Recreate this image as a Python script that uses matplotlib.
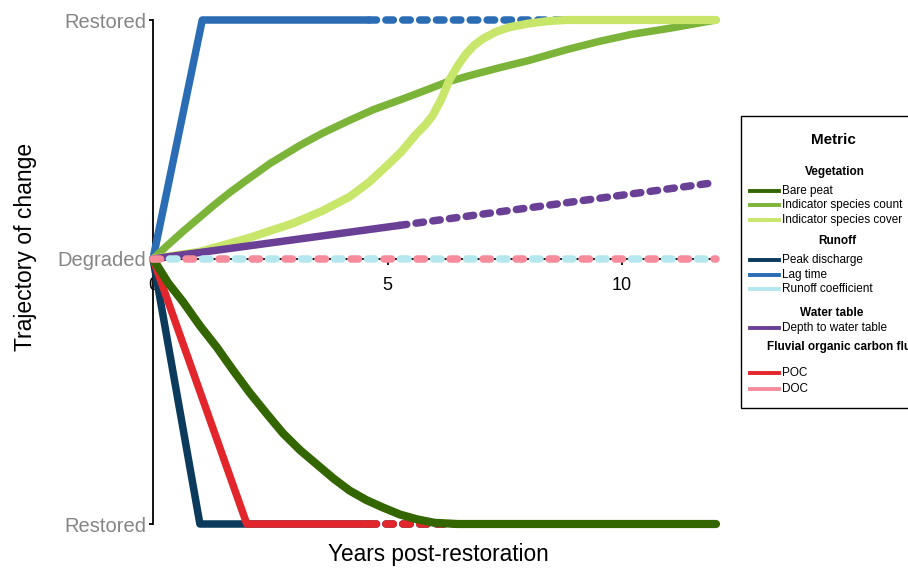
import matplotlib
matplotlib.use("Agg")
import matplotlib.pyplot as plt
from matplotlib.lines import Line2D
from matplotlib.patches import Rectangle
import numpy as np

plt.rcParams['font.family'] = ['Liberation Sans', 'DejaVu Sans']

# ---------------- data ----------------
RESTORED_UP = 1.0
RESTORED_DOWN = -1.11

bare_peat_x = [0, 0.32, 0.64, 1.0, 1.36, 1.72, 2.06, 2.43, 2.77, 3.13, 3.49, 3.85,
               4.19, 4.55, 4.89, 5.26, 5.62, 6.0, 6.5, 12]
bare_peat_y = [0, -0.10, -0.18, -0.28, -0.37, -0.47, -0.56, -0.65, -0.73, -0.80, -0.86,
               -0.92, -0.97, -1.01, -1.04, -1.07, -1.09, -1.105, -1.11, -1.11]

count_x = [0, 0.3, 0.64, 1.0, 1.3, 1.65, 2.0, 2.5, 3.13, 3.6, 4.19, 4.7, 5.26, 5.8, 6.26,
           6.8, 7.38, 8.0, 8.8, 9.5, 10.2, 11.0, 12]
count_y = [0, 0.055, 0.115, 0.175, 0.225, 0.28, 0.33, 0.40, 0.475, 0.525, 0.58, 0.625,
           0.665, 0.705, 0.74, 0.77, 0.80, 0.83, 0.875, 0.91, 0.94, 0.965, 1.0]

cover_x = [0, 1, 2, 3, 3.6, 4.19, 4.6, 5.04, 5.3, 5.6, 5.8, 5.96, 6.15, 6.32, 6.5, 6.68,
           6.85, 7.02, 7.3, 7.6, 8.0, 8.4, 8.8, 12]
cover_y = [0, 0.03, 0.085, 0.15, 0.20, 0.26, 0.32, 0.40, 0.45, 0.52, 0.56, 0.60, 0.67,
           0.75, 0.81, 0.86, 0.895, 0.92, 0.95, 0.97, 0.985, 0.995, 1.0, 1.0]

peak_x = [0, 1, 4.6, 12]
peak_y = [0, -1.11, -1.11, -1.11]

lag_x = [0, 1.05, 4.6, 12]
lag_y = [0, 1.0, 1.0, 1.0]

runoff_coef_x = [0, 12]
runoff_coef_y = [0, 0]

water_x = [0, 5.25, 12]
water_y = [0, 0.14, 0.32]

poc_x = [0, 2, 4.6, 12]
poc_y = [0, -1.11, -1.11, -1.11]

doc_x = [0, 12]
doc_y = [0, 0]

# index of last point drawn solid (rest dashed); None = all solid
series = [
    # name, x, y, colour, solid_until_index, linewidth boost
    ("Peak discharge", peak_x, peak_y, '#0c3a5c', 2, 0.0),
    ("POC", poc_x, poc_y, '#e2262b', 2, 0.0),
    ("Bare peat", bare_peat_x, bare_peat_y, '#336600', None, 0.5),
    ("Lag time", lag_x, lag_y, '#2a6db5', 2, 0.0),
    ("Indicator species count", count_x, count_y, '#7cb43a', None, 0.0),
    ("Indicator species cover", cover_x, cover_y, '#c8e66a', None, 0.5),
    ("Depth to water table", water_x, water_y, '#6a3f96', 1, 0.0),
]

x_ticks = [0, 5, 10]
y_ticks = [RESTORED_DOWN, 0, RESTORED_UP]
y_ticklabels = ["Restored", "Degraded", "Restored"]

legend_groups = [
    ("Vegetation", [("Bare peat", '#336600'), ("Indicator species count", '#7cb43a'),
                    ("Indicator species cover", '#c8e66a')]),
    ("Runoff", [("Peak discharge", '#0c3a5c'), ("Lag time", '#2a6db5'),
                ("Runoff coefficient", '#b5e8ee')]),
    ("Water table", [("Depth to water table", '#6a3f96')]),
    ("Fluvial organic carbon flux", [("POC", '#e2262b'), ("DOC", '#f58b9b')]),
]

# ---------------- figure ----------------
W, H = 908, 571
fig = plt.figure(figsize=(W / 100, H / 100), dpi=100)
ax = fig.add_axes([153 / W, 1 - 524 / H, (716 - 153) / W, (524 - 20) / H])
ax.set_xlim(0, 12)
ax.set_ylim(RESTORED_DOWN, RESTORED_UP)

LW = 5.4
z = 3
for name, xs, ys, col, si, boost in series:
    xs = np.asarray(xs, float)
    ys = np.asarray(ys, float)
    if si is None:
        ax.plot(xs, ys, color=col, lw=LW + boost, solid_capstyle='round',
                solid_joinstyle='round', clip_on=False, zorder=z)
    else:
        ax.plot(xs[:si + 1], ys[:si + 1], color=col, lw=LW, solid_capstyle='round',
                solid_joinstyle='round', clip_on=False, zorder=z)
        ax.plot(xs[si:], ys[si:], color=col, lw=LW, linestyle=(0, (1.0, 1.25)),
                dash_capstyle='round', clip_on=False, zorder=z)
    z += 0.1

# runoff coefficient and DOC: fully dashed, interleaved
ax.plot(runoff_coef_x, runoff_coef_y, color='#b5e8ee', lw=LW, linestyle=(2.2, (1.0, 3.4)),
        dash_capstyle='round', clip_on=False, zorder=z)
ax.plot(doc_x, doc_y, color='#f58b9b', lw=LW, linestyle=(0, (1.0, 3.4)),
        dash_capstyle='round', clip_on=False, zorder=z + 0.1)

# axes styling
for s in ['top', 'right']:
    ax.spines[s].set_visible(False)
ax.spines['bottom'].set_position(('data', 0))
ax.spines['bottom'].set_bounds(0, 12)
ax.spines['left'].set_bounds(RESTORED_DOWN, RESTORED_UP)
ax.spines['left'].set_linewidth(1.3)
ax.spines['bottom'].set_linewidth(1.3)
ax.spines['bottom'].set_zorder(1)

ax.set_xticks(x_ticks)
ax.set_xticklabels([str(t) for t in x_ticks])
ax.set_xticks([2.5, 7.5], minor=True)
ax.tick_params(axis='x', which='major', direction='out', length=4, width=1.3,
               labelsize=13, pad=9, colors='black')
ax.tick_params(axis='x', which='minor', direction='out', length=1.5, width=1.3)
ax.set_yticks(y_ticks)
ax.set_yticklabels(y_ticklabels)
ax.tick_params(axis='y', direction='out', length=3, width=1.3, labelsize=14.5,
               labelcolor='#858585', pad=2)

fig.text(438 / W, 1 - 555 / H, "Years post-restoration", ha='center', va='center',
         fontsize=16.3)
fig.text(26 / W, 1 - 247 / H, "Trajectory of change", ha='center', va='center',
         fontsize=16.5, rotation=90)

# ---------------- legend (manual) ----------------
box = Rectangle((741 / W, 1 - 408 / H), 200 / W, (408 - 116) / H, transform=fig.transFigure,
                facecolor='white', edgecolor='black', lw=1.0, clip_on=False)
fig.add_artist(box)
fig.text(833 / W, 1 - 140 / H, "Metric", ha='center', va='center', fontsize=11,
         fontweight='bold')

header_y = [172, 241, 313, 347]
entry_y = [[191, 205, 220], [260, 275, 289], [328], [373, 389]]
header_x = [835, 837, 832, None]
for (hdr, items), hy, eys, hx in zip(legend_groups, header_y, entry_y, header_x):
    if hx is None:
        fig.text(767 / W, 1 - hy / H, hdr, ha='left', va='center', fontsize=8.5,
                 fontweight='bold')
    else:
        fig.text(hx / W, 1 - hy / H, hdr, ha='center', va='center', fontsize=8.5,
                 fontweight='bold')
    for (lab, col), ey in zip(items, eys):
        fig.add_artist(Line2D([750 / W, 779 / W], [1 - ey / H, 1 - ey / H],
                              transform=fig.transFigure, color=col, lw=2.8))
        fig.text(782 / W, 1 - ey / H, lab, ha='left', va='center', fontsize=8.5)

fig.savefig("out.png", dpi=100)
